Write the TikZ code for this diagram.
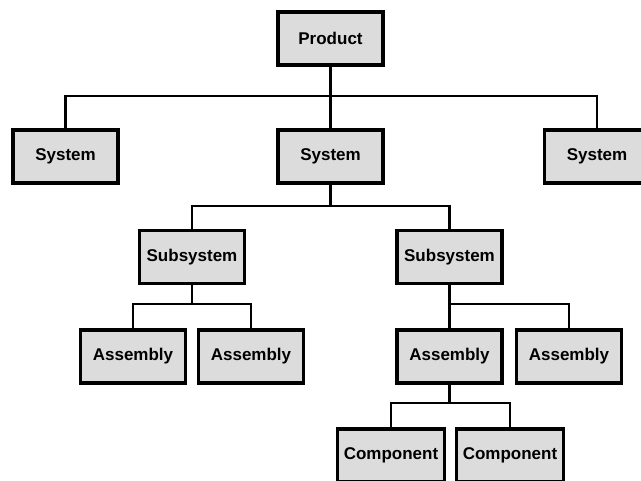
\documentclass[tikz,border=0pt]{standalone}
\usepackage{fontspec}
\setmainfont{Liberation Sans}
\begin{document}
\begin{tikzpicture}[x=1pt,y=-1pt,
  box/.style={draw=black, line width=3.5pt, fill=boxgray, minimum width=105pt, minimum height=53pt, inner sep=0pt, font=\fontsize{17}{20}\selectfont\bfseries},
  conn/.style={draw=black, line width=2.6pt}]
\definecolor{boxgray}{RGB}{220,220,220}
\useasboundingbox[fill=white] (0,0) rectangle (641,481);
\coordinate (bus1) at (0,96);
\coordinate (bus2) at (0,206);
\coordinate (bus3) at (0,304);
\coordinate (bus4) at (0,403);
% nodes
\node[box] (prod) at (330.5,38.5) {Product};
\node[box] (sysL) at (65.5,156.5) {System};
\node[box] (sysM) at (330.5,156.5) {System};
\node[box] (sysR) at (597,156.5) {System};
\node[box] (subL) at (192,257) {Subsystem};
\node[box] (subR) at (449.5,257) {Subsystem};
\node[box] (a1) at (133,356.5) {Assembly};
\node[box] (a2) at (251,356.5) {Assembly};
\node[box] (a3) at (449.5,356.5) {Assembly};
\node[box] (a4) at (569,356.5) {Assembly};
\node[box, minimum width=107pt] (c1) at (391,455.5) {Component};
\node[box, minimum width=107pt] (c2) at (510,455.5) {Component};
% connectors
\draw[conn] (prod.south) -- (sysM.north);
\draw[conn] (sysL.north) |- (sysR.north |- bus1) -- (sysR.north);
\draw[conn] (sysM.south) -- (sysM.south |- bus2);
\draw[conn] (subL.north) |- (subR.north |- bus2) -- (subR.north);
\draw[conn] (subL.south) -- (subL.south |- bus3);
\draw[conn] (a1.north) |- (a2.north |- bus3) -- (a2.north);
\draw[conn] (subR.south) -- (a3.north);
\draw[conn] (a3.north |- bus3) -| (a4.north);
\draw[conn] (a3.south) -- (a3.south |- bus4);
\draw[conn] (c1.north) |- (c2.north |- bus4) -- (c2.north);
\end{tikzpicture}
\end{document}
